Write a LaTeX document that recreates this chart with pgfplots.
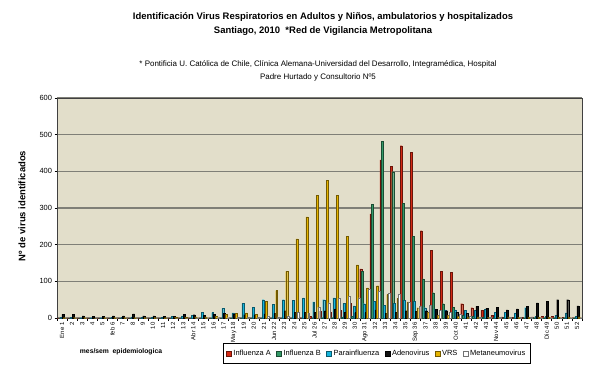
\documentclass[border=0pt]{standalone}
\usepackage{pgfplots}
\pgfplotsset{compat=1.18}
\usepackage{pgfplotstable}
\usepackage{fontspec}
\setmainfont{Liberation Sans}
\definecolor{bgc}{HTML}{E2DECA}
\definecolor{cA}{HTML}{D42A14}
\definecolor{cB}{HTML}{339966}
\definecolor{cP}{HTML}{14B4DC}
\definecolor{cD}{HTML}{111111}
\definecolor{cV}{HTML}{E6B400}
\definecolor{cM}{HTML}{FFFFFF}
\definecolor{gridc}{HTML}{7F7F77}
\pgfplotstableread{
w A B P D V M
1 0 0 2 10 1 0
2 0 0 2 10 1 0
3 0 0 1 6 1 0
4 0 0 1 4 0 0
5 0 0 1 4 1 0
6 0 0 2 6 1 0
7 0 0 2 6 1 0
8 0 0 3 11 1 0
9 0 0 2 6 1 0
10 0 0 2 6 1 0
11 0 0 2 4 1 0
12 0 0 5 5 2 0
13 0 0 6 10 2 0
14 0 0 8 9 3 1
15 0 0 15 8 3 1
16 0 0 15 10 4 1
17 0 0 26 12 10 1
18 0 0 14 10 12 2
19 0 0 40 9 14 2
20 0 0 30 9 10 2
21 0 0 50 11 46 6
22 0 0 38 12 75 3
23 0 0 50 20 127 6
24 0 0 48 15 216 15
25 1 0 55 15 276 13
26 5 0 44 15 335 29
27 18 1 50 20 375 41
28 15 1 55 25 335 54
29 21 3 40 15 222 59
30 40 5 33 15 145 55
31 134 128 39 15 82 78
32 284 310 45 22 88 72
33 431 482 35 13 64 67
34 413 399 40 15 53 65
35 470 312 49 20 44 42
36 452 222 45 18 28 33
37 238 107 28 20 15 35
38 185 69 25 23 8 21
39 127 39 22 20 8 16
40 125 30 22 16 5 10
41 39 8 21 12 3 5
42 28 5 21 32 3 3
43 21 3 23 27 2 3
44 7 2 16 30 2 2
45 3 2 16 22 3 2
46 2 1 14 25 2 2
47 2 1 28 32 2 2
48 3 1 5 41 2 1
49 5 1 4 46 2 1
50 4 1 7 50 2 1
51 2 1 14 50 2 1
52 1 1 4 33 3 1
}\data
\begin{document}
\begin{tikzpicture}[x=1bp,y=1bp]
\path[use as bounding box] (0,0) rectangle (600,366);
\node[font=\fontsize{9.5}{11}\selectfont\bfseries] at (323,349) {Identificación Virus Respiratorios en Adultos y Niños, ambulatorios y hospitalizados};
\node[font=\fontsize{9.5}{11}\selectfont\bfseries] at (323,335) {Santiago, 2010\ \ *Red de Vigilancia Metropolitana};
\node[font=\fontsize{8}{9}\selectfont] at (318,302) {* Pontificia U. Católica de Chile, Clínica Alemana-Universidad del Desarrollo, Integramédica, Hospital};
\node[font=\fontsize{8}{9}\selectfont] at (318,289) {Padre Hurtado y Consultorio Nº5};
\node[font=\fontsize{9.5}{10}\selectfont\bfseries, rotate=90] at (22,160) {Nº de virus identificados};
\node[font=\fontsize{6.8}{8}\selectfont\bfseries] at (121,14) {mes/sem\ \ epidemiologica};
\begin{axis}[at={(57bp,48bp)}, anchor=south west, scale only axis,
  width=525bp, height=220bp,
  xmin=0.5, xmax=52.5, ymin=0, ymax=600,
  axis background/.style={fill=bgc},
  axis line style={draw=black!75, line width=0.6bp},
  ytick={0,100,...,600}, ymajorgrids,
  grid style={draw=gridc, line width=1.1bp},
  major tick length=0pt, minor tick length=2.5bp, tick align=outside,
  minor ytick={0,100,...,600}, minor xtick={0.5,1.5,...,52.5},
  xtick pos=bottom, ytick pos=left,
  every minor tick/.append style={draw=black, line width=0.5bp},
  /pgf/number format/assume math mode=true,
  yticklabel style={font=\fontsize{7.5}{7.5}\selectfont, xshift=-1.5bp},
  xtick={1,...,52},
  xticklabels={Ene 1,2,3,4,5,feb 6,7,8,9,10,11,12,13,Abr 14,15,16,17,May 18,19,20,21,Jun 22,23,24,25,Jul 26,27,28,29,30,Ago 31,32,33,34,35,Sep 36,37,38,39,Oct 40,41,42,43,Nov 44,45,46,47,48,Dic 49,50,51,52},
  xticklabel style={rotate=90, anchor=east, font=\fontsize{6}{6}\selectfont, xshift=-1bp},
  ybar=-0.25bp, bar width=1.95bp,
  every axis plot/.append style={line width=0.25bp,
    legend image code/.code={\draw[##1, line width=0.4bp] (0bp,-2.4bp) rectangle (4.8bp,2.4bp);}},
  legend columns=6,
  legend style={at={(0.316,-0.114)}, anchor=north west, draw=black, line width=0.8bp, fill=white,
    font=\fontsize{7.5}{8}\selectfont, inner xsep=3bp, inner ysep=4.5bp,
    /tikz/every even column/.append style={column sep=3.5bp}},
  legend cell align=left,
]
\addplot[fill=cA, draw=cA!50!black] table[x=w,y=A]{\data};
\addplot[fill=cB, draw=cB!50!black] table[x=w,y=B]{\data};
\addplot[fill=cP, draw=cP!50!black] table[x=w,y=P]{\data};
\addplot[fill=cD, draw=black] table[x=w,y=D]{\data};
\addplot[fill=cV, draw=cV!50!black] table[x=w,y=V]{\data};
\addplot[fill=cM, draw=black!55] table[x=w,y=M]{\data};
\legend{Influenza A,Influenza B,Parainfluenza,Adenovirus,VRS,Metaneumovirus}
\end{axis}
\end{tikzpicture}
\end{document}
